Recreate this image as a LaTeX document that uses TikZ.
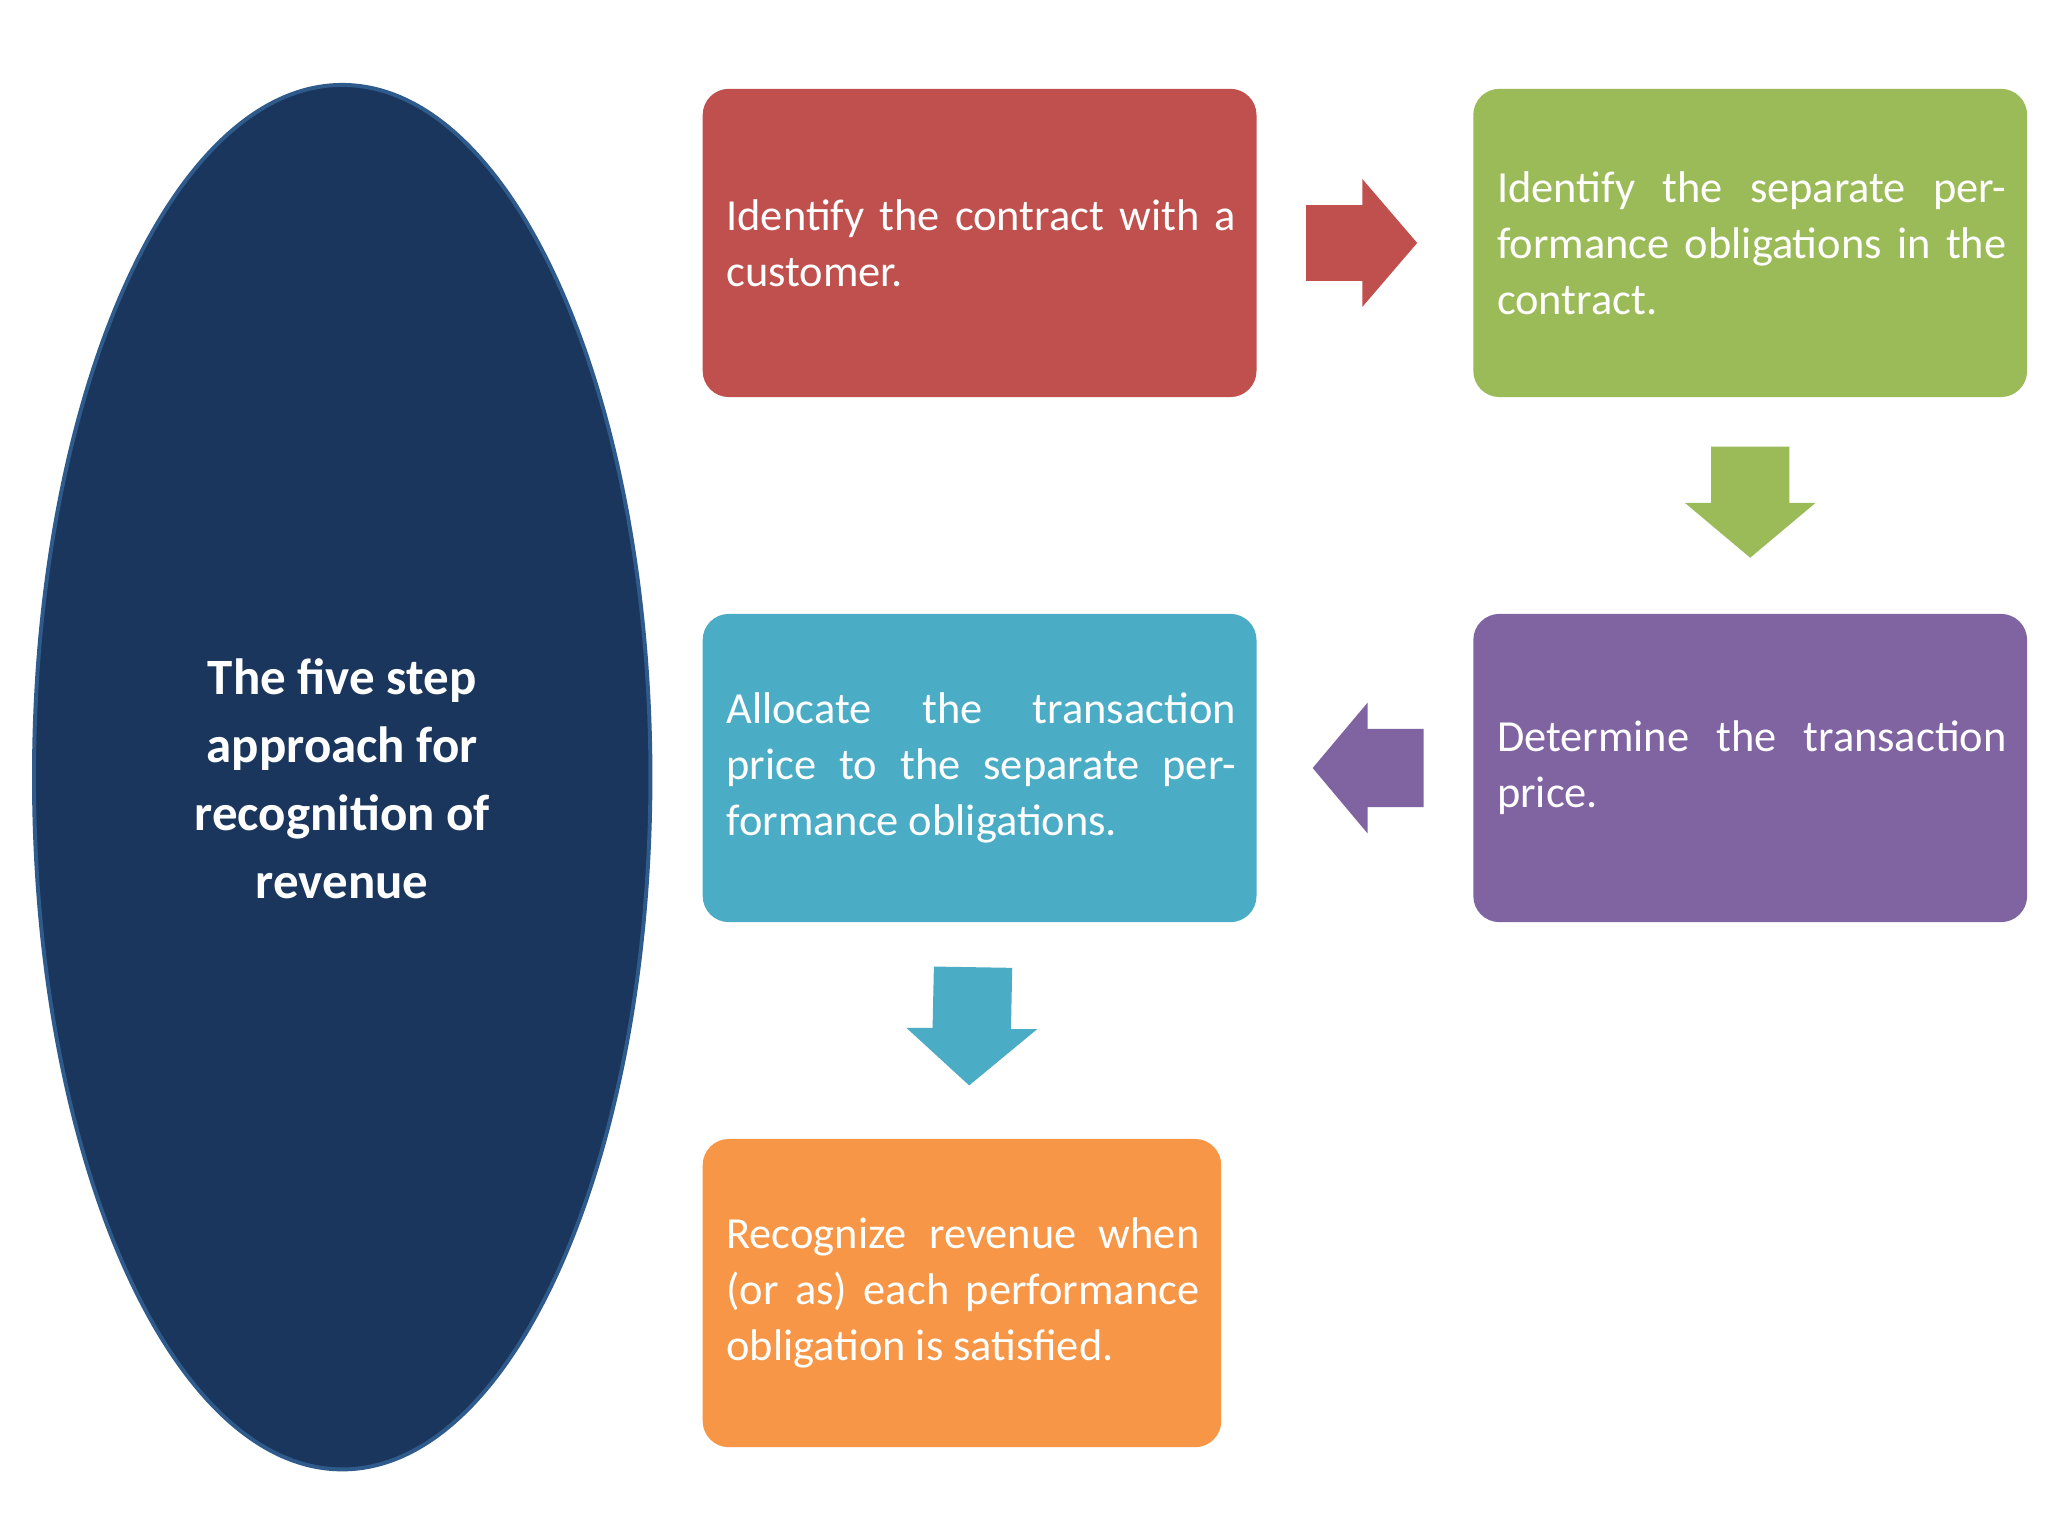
\documentclass[tikz,border=0pt]{standalone}
\usepackage{fontspec}
\setmainfont{Carlito}
\begin{document}
\begin{tikzpicture}[x=1pt,y=-1pt,
 box/.style={rounded corners=20pt,inner sep=0pt},
 txt/.style={text=white,text width=390pt,align=justify,font=\fontsize{34}{43}\selectfont,anchor=west,inner sep=0pt}]
\useasboundingbox (0,0) rectangle (1568,1176);
\definecolor{cred}{HTML}{C0504D}\definecolor{cgreen}{HTML}{9BBB59}
\definecolor{cpurp}{HTML}{8064A2}\definecolor{cblue}{HTML}{4BACC6}
\definecolor{corange}{HTML}{F79646}\definecolor{cnavy}{HTML}{1A365D}
\definecolor{cedge}{HTML}{2F5B8C}
\fill[white] (0,0) rectangle (1568,1176);
\draw[fill=cnavy,draw=cedge,line width=3pt] (262,595) ellipse [x radius=236,y radius=530];
\node[text=white,font=\fontsize{39}{52}\selectfont\bfseries,align=center] (e) at (262,596) {The five step\\approach for\\recognition of\\revenue};
\fill[box,cred] (538,68) rectangle (962,304);
\fill[box,cgreen] (1128,68) rectangle (1552,304);
\fill[box,cpurp] (1128,470) rectangle (1552,706);
\fill[box,cblue] (538,470) rectangle (962,706);
\fill[box,corange] (538,872) rectangle (935,1108);
\node[txt] (t1) at (556,186) {Identify the contract with a customer.};
\node[txt] (t2) at (1146,186) {Identify the separate performance obligations in the contract.};
\node[txt] (t3) at (1146,588) {Determine the transaction price.};
\node[txt] (t4) at (556,588) {Allocate the transaction price to the separate performance obligations.};
\node[txt,text width=362pt] (t5) at (556,990) {Recognize revenue when (or as) each performance obligation is satisfied.};
\fill[cred] (1000,157)--(1043,157)--(1043,137)--(1085,186)--(1043,235)--(1043,215)--(1000,215)--cycle;
\fill[cgreen] (1310,342)--(1370,342)--(1370,385)--(1390,385)--(1340,427)--(1290,385)--(1310,385)--cycle;
\fill[cpurp] (1090,558)--(1047,558)--(1047,538)--(1005,588)--(1047,638)--(1047,618)--(1090,618)--cycle;
\fill[cblue] (715,740)--(775,741)--(774,788)--(794,788)--(742,831)--(694,787)--(714,787)--cycle;
\end{tikzpicture}
\end{document}
